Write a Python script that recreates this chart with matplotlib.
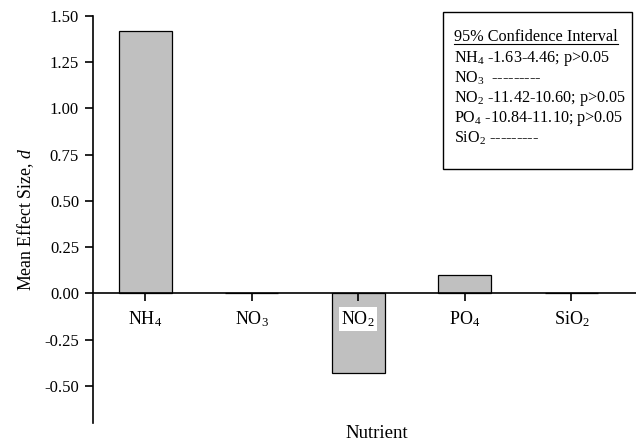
import matplotlib
matplotlib.use("Agg")
import matplotlib.pyplot as plt
from matplotlib.patches import Rectangle
from matplotlib.lines import Line2D
from matplotlib.ticker import FormatStrFormatter

plt.rcParams['font.family'] = ['Liberation Serif', 'DejaVu Serif']
plt.rcParams['mathtext.fontset'] = 'custom'
plt.rcParams['mathtext.rm'] = 'Liberation Serif'
plt.rcParams['mathtext.it'] = 'Liberation Serif:italic'
plt.rcParams['axes.unicode_minus'] = False

categories = ["NH$_4$", "NO$_3$", "NO$_2$", "PO$_4$", "SiO$_2$"]
values = [1.42, 0.0, -0.43, 0.10, 0.0]
yticks = [-0.50, -0.25, 0.00, 0.25, 0.50, 0.75, 1.00, 1.25, 1.50]
ci_title = "95% Confidence Interval"
ci_lines = ["NH$_4$ -1.63-4.46; p>0.05",
            "NO$_3$  ---------",
            "NO$_2$ -11.42-10.60; p>0.05",
            "PO$_4$ -10.84-11.10; p>0.05",
            "SiO$_2$ ---------"]

fig = plt.figure(figsize=(6.36, 4.47), dpi=100)
ax = fig.add_axes([0.1462, 0.0537, 0.8538, 0.9112])
ax.set_axisbelow(False)

x = list(range(len(categories)))
ax.bar(x, values, width=0.5, color='#c0c0c0', edgecolor='black', linewidth=0.9, zorder=2)

ax.set_xlim(-0.491, 4.607)
ax.set_ylim(-0.70, 1.50)
ax.set_yticks(yticks)
ax.yaxis.set_major_formatter(FormatStrFormatter('%.2f'))
ax.set_xticks(x)
ax.set_xticklabels(categories)

for s in ['top', 'right']:
    ax.spines[s].set_visible(False)
ax.spines['bottom'].set_position(('data', 0))
ax.spines['bottom'].set_linewidth(1.2)
ax.spines['left'].set_linewidth(1.2)

ax.tick_params(axis='y', direction='out', length=6, width=1.2, labelsize=12, pad=4)
ax.tick_params(axis='x', direction='out', length=6, width=1.2, labelsize=13, pad=5.5)

for lab in ax.get_xticklabels():
    lab.set_bbox(dict(facecolor='white', edgecolor='none', pad=1.5))

ax.set_ylabel("Mean Effect Size, $d$", fontsize=12.8, labelpad=6)
fig.text(377 / 636, 1 - 433 / 447, "Nutrient", fontsize=13.5,
         ha='center', va='center')

# confidence-interval box
bx0, by0, bx1, by1 = 443 / 636, 1 - 169 / 447, 632 / 636, 1 - 12 / 447
fig.patches.append(Rectangle((bx0, by0), bx1 - bx0, by1 - by0, transform=fig.transFigure,
                             facecolor='white', edgecolor='black', linewidth=1.0, zorder=5))
tx = 454 / 636
t = fig.text(tx, 1 - 37 / 447, ci_title, fontsize=11.7, va='center', ha='left', zorder=6)
for i, line in enumerate(ci_lines):
    fig.text(tx, 1 - (58 + 20 * i) / 447, line, fontsize=11.6, va='center', ha='left', zorder=6)

fig.canvas.draw()
bb = t.get_window_extent().transformed(fig.transFigure.inverted())
fig.lines.append(Line2D([bb.x0, bb.x1], [bb.y0 + 0.003, bb.y0 + 0.003], transform=fig.transFigure,
                        color='black', linewidth=0.8, zorder=6))

fig.savefig("out.png", dpi=100)
